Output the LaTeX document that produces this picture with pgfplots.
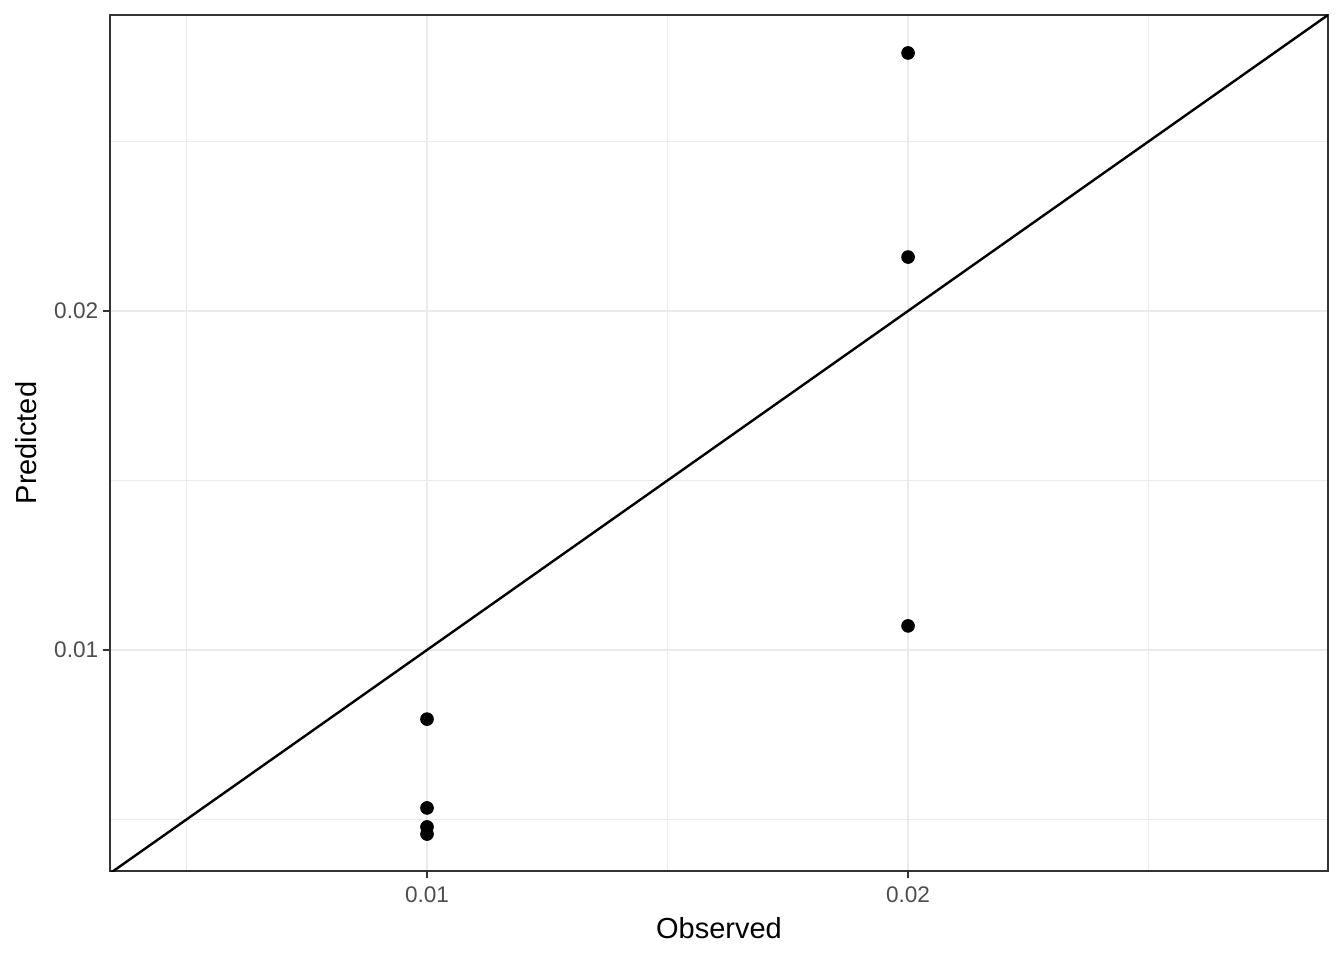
\documentclass[border=0pt]{standalone}
\usepackage{pgfplots}
\pgfplotsset{compat=1.18}
\usepackage{fontspec}
\setmainfont{Liberation Sans}
\definecolor{gridc}{HTML}{EBEBEB}
\definecolor{gtwenty}{HTML}{333333}
\definecolor{gthirty}{HTML}{4D4D4D}
\begin{document}
\begin{tikzpicture}
\useasboundingbox (0,0) rectangle (672pt,480pt);
\begin{axis}[
  at={(55pt,44.5pt)}, anchor=south west,
  scale only axis, width=609pt, height=428pt,
  xmin=0.00341, xmax=0.02873, ymin=0.00348, ymax=0.02873,
  scaled ticks=false,
  xtick={0.01,0.02}, xticklabels={0.01,0.02},
  ytick={0.01,0.02}, yticklabels={0.01,0.02},
  minor xtick={0.005,0.015,0.025}, minor ytick={0.005,0.015,0.025},
  grid=both,
  major grid style={gridc, line width=1.4pt},
  minor grid style={gridc, line width=0.7pt},
  tick align=outside, tick pos=left,
  major tick length=3.7pt, minor tick length=0pt,
  major tick style={gtwenty, line width=1pt},
  axis line style={gtwenty, line width=0.6pt},
  ticklabel style={font=\fontsize{11.3}{13}\selectfont, text=gthirty},
  xticklabel style={anchor=north, inner sep=0pt, yshift=-4pt},
  yticklabel style={anchor=east, inner sep=0pt, xshift=-2pt},
  xlabel={Observed}, ylabel={Predicted},
  label style={font=\fontsize{14.5}{17}\selectfont, text=black},
  xlabel style={at={(axis description cs:0.5,-0.07886)}, anchor=base, inner sep=0pt},
  ylabel style={at={(axis description cs:-0.05993,0.5)}, anchor=base, inner sep=0pt},
]
\addplot[black, line width=1.2pt] coordinates {(0,0) (0.03,0.03)};
\addplot[only marks, mark=*, mark size=3.2pt, black] coordinates {
(0.01,0.00796) (0.01,0.00534) (0.01,0.00478) (0.01,0.00457)
(0.02,0.02761) (0.02,0.02159) (0.02,0.01071)
};
\end{axis}
\end{tikzpicture}
\end{document}
